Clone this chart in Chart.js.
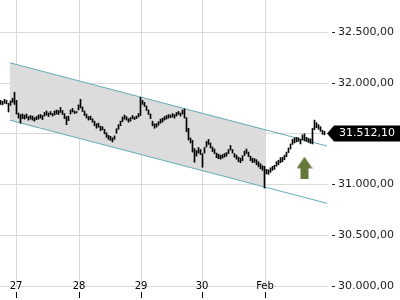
<!DOCTYPE html>
<html>
<head>
<meta charset="utf-8">
<script src="https://cdn.jsdelivr.net/npm/chart.js@4.4.1/dist/chart.umd.min.js"></script>
<style>
html,body{margin:0;padding:0;background:#fff;}
canvas{display:block;}
</style>
</head>
<body>
<canvas id="c" width="400" height="300"></canvas>
<script>
// ---- data ----
const dayLabels = ['27', '28', '29', '30', 'Feb'];
const dayStarts = [7.75, 39.25, 70.25, 100.75, 132.25]; // bar index where each session starts

const lows = [
31790,31785,31800,31795,31715,31780,31810,31790,31695,31655,
31605,31650,31645,31655,31635,31645,31635,31625,31640,31645,
31655,31640,31675,31685,31670,31690,31675,31685,31695,31690,
31710,31690,31650,31590,31630,31695,31715,31700,31705,31735,
31755,31720,31680,31655,31635,31640,31615,31580,31555,31565,
31530,31540,31500,31465,31445,31435,31420,31445,31505,31545,
31580,31620,31645,31635,31615,31625,31650,31640,31650,31665,
31680,31790,31770,31730,31690,31650,31580,31555,31565,31585,
31605,31615,31635,31645,31655,31660,31665,31655,31675,31690,
31675,31695,31655,31520,31440,31410,31320,31220,31280,31310,
31295,31170,31310,31370,31395,31360,31325,31305,31265,31255,
31250,31260,31270,31280,31305,31340,31310,31270,31250,31225,
31215,31235,31285,31305,31275,31235,31215,31220,31195,31175,
31155,31140,30965,31105,31100,31120,31140,31150,31180,31195,
31215,31225,31245,31275,31315,31350,31395,31410,31420,31425,
31400,31440,31430,31425,31415,31405,31400,31540,31560,31545,
31525,31495,31490
];
const highs = [
31830,31820,31840,31830,31800,31825,31850,31910,31830,31705,
31690,31695,31685,31695,31670,31680,31675,31660,31670,31685,
31690,31680,31710,31725,31705,31720,31700,31725,31735,31730,
31760,31730,31700,31670,31675,31735,31750,31725,31720,31785,
31840,31765,31725,31695,31670,31675,31650,31625,31600,31605,
31575,31570,31545,31510,31485,31475,31460,31480,31550,31590,
31625,31665,31685,31670,31650,31660,31680,31665,31675,31700,
31860,31830,31810,31775,31735,31695,31625,31600,31600,31620,
31645,31655,31670,31680,31690,31685,31700,31690,31710,31720,
31705,31735,31745,31660,31555,31460,31435,31355,31335,31365,
31345,31305,31365,31425,31445,31410,31370,31350,31310,31300,
31290,31295,31305,31315,31345,31385,31345,31305,31290,31270,
31260,31285,31330,31350,31320,31280,31260,31255,31245,31225,
31205,31185,31180,31150,31145,31165,31180,31190,31225,31240,
31265,31270,31290,31320,31360,31400,31445,31460,31465,31460,
31445,31490,31500,31465,31455,31450,31555,31635,31610,31590,
31570,31535,31525
];
const lastClose = 31512.10;

const channelUpper = [[4.75, 32200], [163.25, 31380]];
const channelLower = [[4.75, 31634], [163.25, 30815]];
const channelFillUpper = [[4.75, 32200], [132.25, 31542]];
const channelFillLower = [[4.75, 31634], [132.25, 30975]];
const signalArrow = [[152, 31165]];

const yTicks = [30000, 30500, 31000, 31500, 32000, 32500];

// ---- helpers ----
function fmtDE(v) {
  const s = Number(v).toFixed(2);
  let [a, b] = s.split('.');
  a = a.replace(/\B(?=(\d{3})+(?!\d))/g, '.');
  return a + ',' + b;
}
const toXY = arr => arr.map(p => ({x: p[0], y: p[1]}));

// arrow glyph used as the point style of the signal dataset
const arrowImg = document.createElement('canvas');
arrowImg.width = 16; arrowImg.height = 22;
(function () {
  const g = arrowImg.getContext('2d');
  g.fillStyle = '#66793a';
  g.beginPath();
  g.moveTo(8, 0); g.lineTo(16, 11.5); g.lineTo(12, 11.5); g.lineTo(12, 22);
  g.lineTo(4, 22); g.lineTo(4, 11.5); g.lineTo(0, 11.5); g.closePath();
  g.fill();
})();

const TEAL = '#62adb2';

const priceTag = {
  id: 'priceTag',
  afterDraw(chart) {
    const {ctx, chartArea, scales} = chart;
    const y = Math.round(scales.y.getPixelForValue(lastClose)) + 0.5;
    const x0 = chartArea.right - 1;
    ctx.save();
    ctx.fillStyle = '#000';
    ctx.beginPath();
    ctx.moveTo(x0, y);
    ctx.lineTo(x0 + 7, y - 8);
    ctx.lineTo(400, y - 8);
    ctx.lineTo(400, y + 8);
    ctx.lineTo(x0 + 7, y + 8);
    ctx.closePath();
    ctx.fill();
    ctx.fillStyle = '#fff';
    ctx.font = '11px "DejaVu Sans"';
    ctx.textBaseline = 'middle';
    ctx.textAlign = 'left';
    ctx.fillText(fmtDE(lastClose), x0 + 12, y);
    ctx.restore();
  }
};

Chart.defaults.font.family = '"DejaVu Sans"';

new Chart(document.getElementById('c'), {
  type: 'bar',
  data: {
    datasets: [
      {
        type: 'scatter',
        data: toXY(signalArrow),
        pointStyle: arrowImg,
        order: 0
      },
      {
        type: 'bar',
        data: lows.map((lo, i) => ({x: i, y: [lo, highs[i]]})),
        backgroundColor: '#000',
        barThickness: 1,
        borderWidth: 0,
        order: 1
      },
      {
        type: 'line',
        data: toXY(channelUpper),
        borderColor: TEAL, borderWidth: 1, pointRadius: 0, fill: false,
        order: 2
      },
      {
        type: 'line',
        data: toXY(channelLower),
        borderColor: TEAL, borderWidth: 1, pointRadius: 0, fill: false,
        order: 2
      },
      {
        type: 'line',
        data: toXY(channelFillUpper),
        borderWidth: 0, borderColor: 'rgba(0,0,0,0)', pointRadius: 0,
        backgroundColor: '#dcdcdc',
        fill: '+1',
        order: 3
      },
      {
        type: 'line',
        data: toXY(channelFillLower),
        borderWidth: 0, borderColor: 'rgba(0,0,0,0)', pointRadius: 0,
        fill: false,
        order: 3
      }
    ]
  },
  options: {
    responsive: false,
    animation: false,
    events: [],
    layout: {padding: 0, autoPadding: false},
    plugins: {legend: {display: false}, tooltip: {enabled: false}},
    scales: {
      x: {
        type: 'linear',
        min: -0.25,
        max: 163.75,
        offset: false,
        afterBuildTicks(scale) { scale.ticks = dayStarts.map(v => ({value: v})); },
        afterFit(scale) {
          scale.height = 14;
          scale.paddingLeft = 0; scale.paddingRight = 0;
        },
        ticks: {
          autoSkip: false,
          maxRotation: 0,
          mirror: true,
          padding: -6,
          color: '#000',
          font: {size: 10},
          callback: (v, i) => dayLabels[i]
        },
        grid: {
          offset: false,
          color: '#d9d9d9',
          tickLength: 12,
          tickColor: '#000',
          tickBorderDash: [0, 6, 6]
        },
        border: {display: false}
      },
      y: {
        position: 'right',
        min: 30000,
        max: 32819,
        afterBuildTicks(scale) { scale.ticks = yTicks.map(v => ({value: v})); },
        afterFit(scale) {
          scale.width = 72;
          scale.paddingTop = 0; scale.paddingBottom = 0;
        },
        ticks: {
          padding: 3,
          color: '#222',
          font: {size: 11},
          callback: v => fmtDE(v)
        },
        grid: {
          color: '#d9d9d9',
          tickLength: 7,
          tickColor: '#222',
          tickBorderDash: [0, 4, 3]
        },
        border: {display: false}
      }
    }
  },
  plugins: [priceTag]
});
</script>
</body>
</html>
